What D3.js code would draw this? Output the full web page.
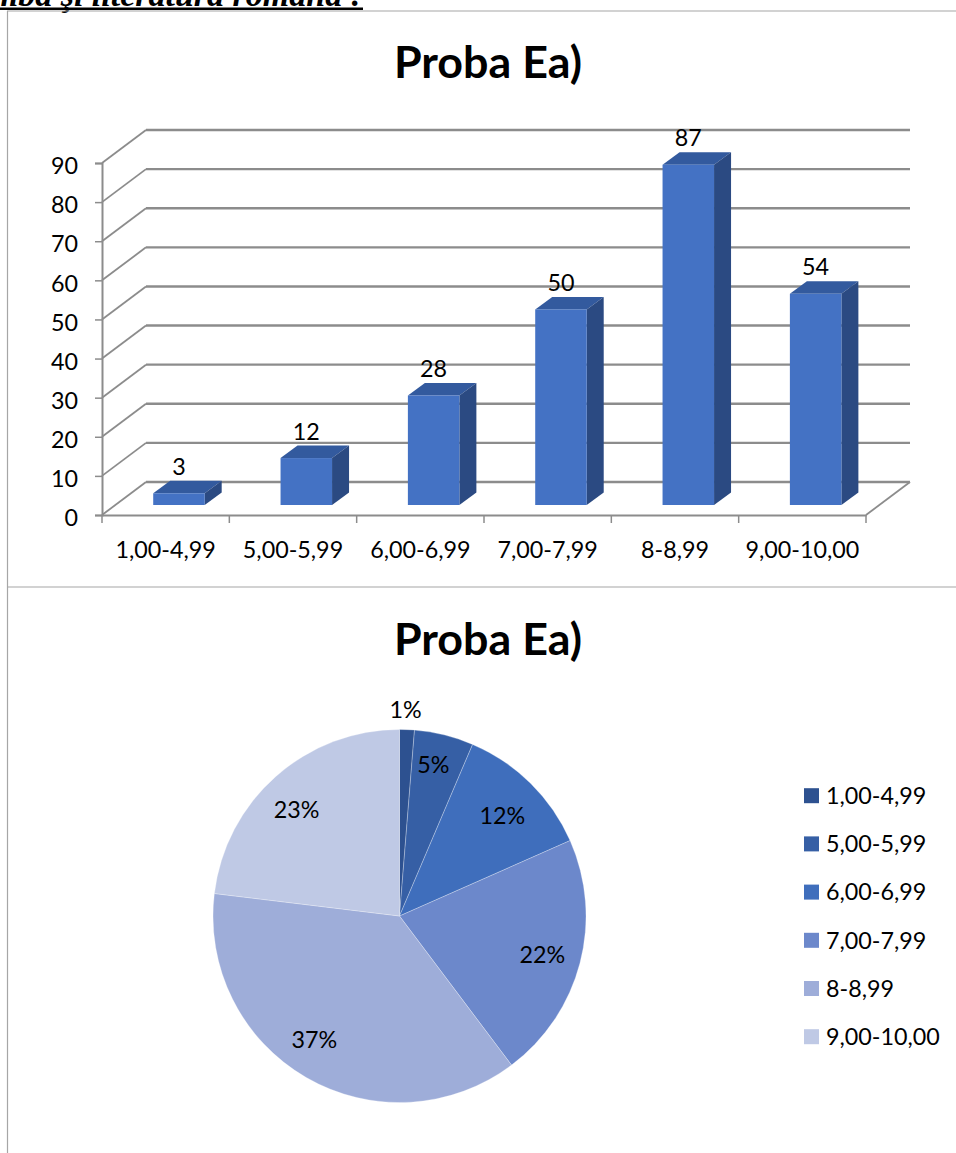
<!DOCTYPE html>
<html><head><meta charset="utf-8">
<script src="https://cdn.jsdelivr.net/npm/d3@7"></script>
<style>
html,body{margin:0;padding:0;background:#fff}
svg{display:block}
text{font-family:Lato,"Open Sans",sans-serif;fill:#000}
</style></head><body><svg id="c" width="956" height="1153"></svg>
<script>
const categories=["1,00-4,99","5,00-5,99","6,00-6,99","7,00-7,99","8-8,99","9,00-10,00"];
const values=[3,12,28,50,87,54];
const pieLabels=["1%","5%","12%","22%","37%","23%"];
const pieColors=["#2D5190","#365FA5","#3F6EBC","#6C88CB","#9EADD9","#BFC9E5"];
const yTicks=[0,10,20,30,40,50,60,70,80,90];
const titleText="Proba Ea)";
const headerText="Limba şi literatura română :";

const svg=d3.select("#c");
const grid="#8c8c8c", frame="#a6a6a6";
const fs="23.3px";
// page frame
svg.append("text").attr("x",362).attr("y",6).attr("text-anchor","end")
  .style("font-family","'Liberation Serif'").style("font-weight","bold").style("font-style","italic")
  .style("font-size","34px").text(headerText);
svg.append("rect").attr("x",0).attr("y",7.5).attr("width",363).attr("height",2.5).attr("fill","#000");
[[7,11,956,11],[7,587,956,587],[7.5,11,7.5,1153]].forEach(l=>svg.append("line")
  .attr("x1",l[0]).attr("y1",l[1]).attr("x2",l[2]).attr("y2",l[3]).attr("stroke",frame).attr("stroke-width",1.2));

// 3D column chart
const x=d3.scaleBand().domain(categories).range([102,866]);
const y=d3.scaleLinear().domain([0,90]).range([515,163]);
const dx=44,dy=-33;
const g=svg.append("g");
svg.append("text").attr("x",488).attr("y",78).attr("text-anchor","middle")
  .style("font-size","44.8px").style("font-weight","700").text(titleText);
const gridG=g.append("g").attr("fill","none").attr("stroke",grid);
yTicks.forEach(t=>{
  gridG.append("line").attr("x1",102+dx).attr("x2",866+dx).attr("y1",y(t)+dy).attr("y2",y(t)+dy).attr("stroke-width",2.4);
  gridG.append("line").attr("x1",102).attr("x2",102+dx).attr("y1",y(t)).attr("y2",y(t)+dy).attr("stroke-width",1.8);
});
gridG.append("line").attr("x1",866).attr("x2",866+dx).attr("y1",y(0)).attr("y2",y(0)+dy).attr("stroke-width",1.8);
const ya=g.append("g").attr("transform","translate(102,0)").call(d3.axisLeft(y).tickValues(yTicks).tickSize(7).tickPadding(17));
const xa=g.append("g").attr("transform","translate(0,515)").call(d3.axisBottom(x).tickSize(0).tickPadding(26));
xa.append("g").selectAll("line").data(d3.range(7)).join("line")
  .attr("x1",i=>102+i*x.step()).attr("x2",i=>102+i*x.step()).attr("y1",0).attr("y2",8).attr("stroke",grid).attr("stroke-width",1.5);
[ya,xa].forEach(a=>{a.selectAll(".domain").attr("stroke",grid).attr("stroke-width",2);
  a.selectAll(".tick line").attr("stroke",grid).attr("stroke-width",1.5);
  a.selectAll("text").style("font-size",fs).style("font-family","Lato").attr("fill","#000");});
ya.selectAll(".tick text").attr("dy","0.46em");

const w=51.5,bdx=17,bdy=-12.5,base=505,unit=y(0)-y(1);
const bars=g.append("g").selectAll("g").data(categories.map((c,i)=>({c,v:values[i]}))).join("g");
const barLeft=d=>x(d.c)+x.bandwidth()/2-w/2+13.3;
const barTop=d=>base-d.v*unit;
bars.append("polygon").attr("fill","#335A9E").attr("points",d=>{const l=barLeft(d),t=barTop(d);
  return [[l,t],[l+w,t],[l+w+bdx,t+bdy],[l+bdx,t+bdy]].join(" ");});
bars.append("polygon").attr("fill","#2B4A82").attr("points",d=>{const l=barLeft(d)+w,t=barTop(d);
  return [[l,t],[l,base],[l+bdx,base+bdy],[l+bdx,t+bdy]].join(" ");});
bars.append("rect").attr("fill","#4472C4").attr("x",barLeft).attr("y",barTop).attr("width",w).attr("height",d=>base-barTop(d));
bars.append("text").attr("x",d=>barLeft(d)+w/2).attr("y",d=>barTop(d)-18.5).attr("text-anchor","middle")
  .style("font-size",fs).text(d=>d.v);

// pie chart
const cx=399.5,cy=916,R=186.5;
const labelRadius=[206,155,144,148,150,148];
const labelTurn=[-0.6,-1.2,1,0.6,4.6,-2.5];
svg.append("text").attr("x",488).attr("y",655).attr("text-anchor","middle")
  .style("font-size","44.8px").style("font-weight","700").text(titleText);
const arcs=d3.pie().sort(null)(values);
const arc=d3.arc().innerRadius(0).outerRadius(R);
const pg=svg.append("g").attr("transform",`translate(${cx},${cy})`);
pg.selectAll("path").data(arcs).join("path").attr("d",arc).attr("fill",(d,i)=>pieColors[i])
  .attr("stroke","#fff").attr("stroke-opacity",.35).attr("stroke-width",.8);
pg.selectAll("text").data(arcs).join("text").attr("text-anchor","middle").attr("dy","0.36em")
  .style("font-size",fs)
  .attr("transform",(d,i)=>{const a=(d.startAngle+d.endAngle)/2+labelTurn[i]*Math.PI/180;
    return `translate(${Math.sin(a)*labelRadius[i]},${-Math.cos(a)*labelRadius[i]})`;})
  .text((d,i)=>pieLabels[i]);
const ly=d3.scalePoint().domain(categories).range([795.7,1036.7]);
const lg=svg.append("g").selectAll("g").data(categories).join("g").attr("transform",d=>`translate(804,${ly(d)})`);
lg.append("rect").attr("y",-7.5).attr("width",15).attr("height",15).attr("fill",(d,i)=>pieColors[i]);
lg.append("text").attr("x",22).attr("dy","0.36em").style("font-size",fs).text(d=>d);
</script></body></html>
